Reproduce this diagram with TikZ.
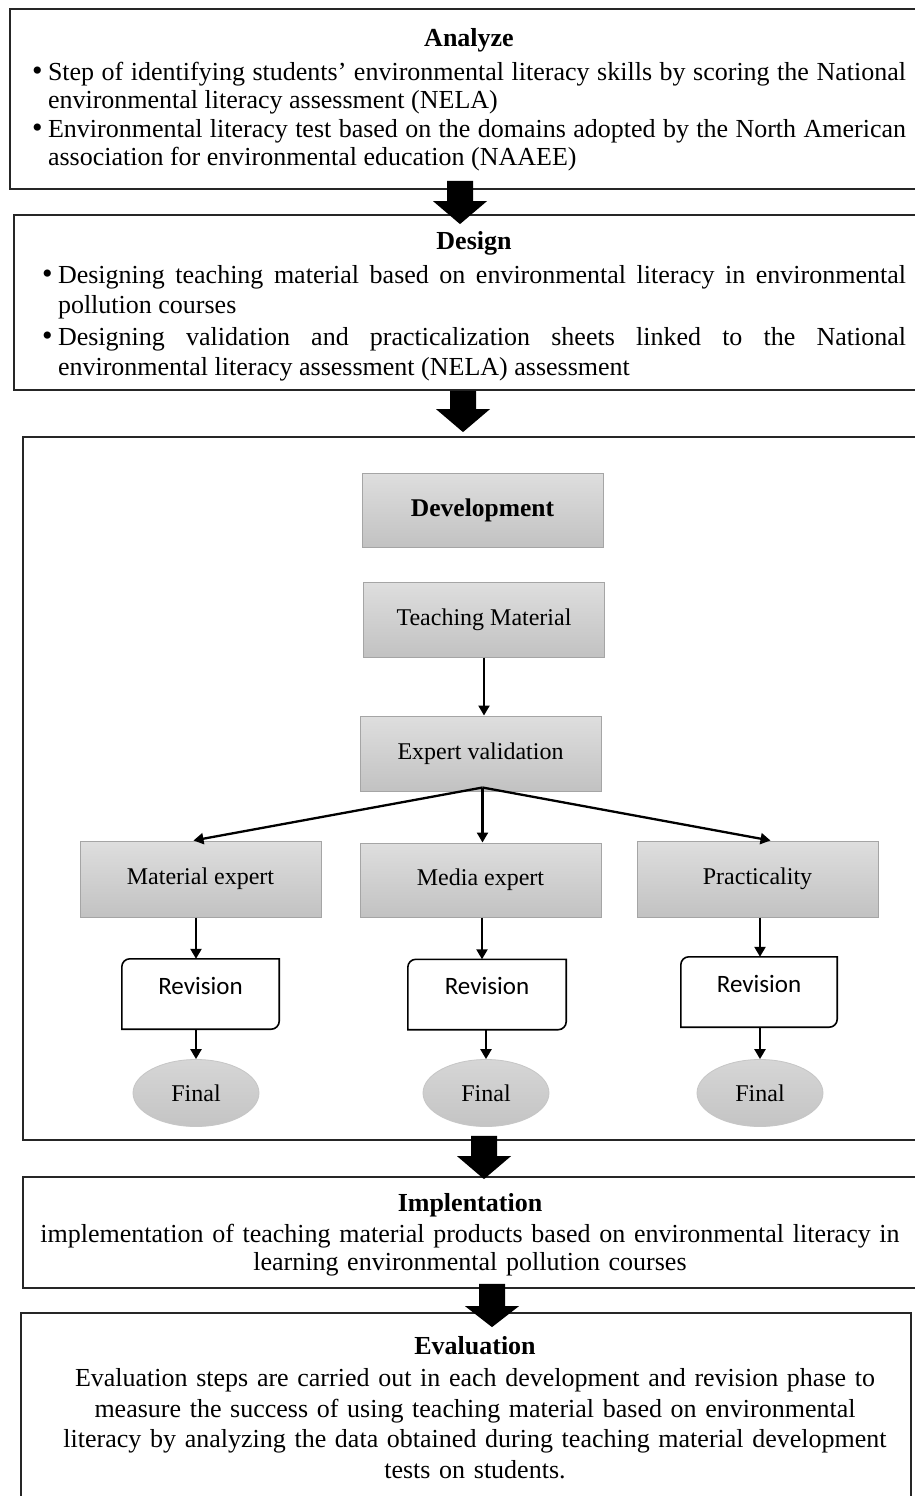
\documentclass[tikz,border=0pt]{standalone}
\usepackage{fontspec}
\setmainfont{Liberation Serif}
\newfontfamily\calib{Carlito}
\usetikzlibrary{arrows.meta,calc,shapes.geometric}
\definecolor{gtop}{RGB}{222,222,222}
\definecolor{gbot}{RGB}{194,194,194}
\definecolor{gbord}{RGB}{165,165,165}
\definecolor{etop}{RGB}{214,214,214}
\definecolor{ebot}{RGB}{196,196,196}
\newcommand\bigfont{\fontsize{26}{28.3}\selectfont}
\newcommand\desfont{\fontsize{26}{29.5}\selectfont}
\newcommand\evfont{\fontsize{26}{30.5}\selectfont}
\newcommand\smallserif{\fontsize{24}{26}\selectfont}
\newcommand\devfont{\fontsize{25.5}{28}\selectfont\bfseries}
\newcommand\revfont{\calib\fontsize{25}{28}\selectfont}
\newcommand\bul[1]{\par\noindent\hangindent=16pt\hangafter=1\makebox[16pt][l]{\fontsize{30}{30}\selectfont\textbullet}#1\par}
\newcommand\fatarr[3]{%
  \fill[black] ($(#1)+(-13,0)$) -- ($(#1)+(13,0)$) -- ($(#2)+(13,-#3)$) -- ($(#2)+(27,-#3)$) -- (#2) -- ($(#2)+(-27,-#3)$) -- ($(#2)+(-13,-#3)$) -- cycle;}
\tikzset{
  bigbox/.style={draw=black!85, line width=1.8pt, inner sep=0pt},
  gbox/.style={draw=gbord, line width=1pt, top color=gtop, bottom color=gbot,
    minimum width=241pt, minimum height=75pt, inner sep=0pt, font=\smallserif},
  revbox/.style={minimum width=157pt, inner xsep=0pt, inner ysep=0pt,
    text height=35pt, text depth=35pt, font=\revfont},
  revframe/.style={line width=1.6pt, draw=black},
  finbox/.style={ellipse, draw=gray!45, line width=0.8pt, top color=etop, bottom color=ebot,
    minimum width=126pt, minimum height=67pt, inner sep=0pt, font=\smallserif},
  arr/.style={line width=2.3pt, -{Triangle[length=10pt,width=11pt]}},
  txt/.style={inner sep=0pt, anchor=north}
}
\begin{document}
\begin{tikzpicture}[x=1pt,y=-1pt]
\useasboundingbox (0,0) rectangle (914,1496);
\fill[white] (0,0) rectangle (914,1496);

% outer boxes
\node[bigbox, minimum width=908pt, minimum height=180pt] (analyze) at (464,99) {};
\node[bigbox, minimum width=904pt, minimum height=175pt] (design) at (466,302.5) {};
\node[bigbox, minimum width=895pt, minimum height=703pt] (devframe) at (470.5,788.5) {};
\node[bigbox, minimum width=895pt, minimum height=111pt] (impl) at (470.5,1232.5) {};
\node[bigbox, minimum width=890pt, minimum height=197pt] (eval) at (466,1411.5) {};

% texts of the outer boxes
\node[txt, text width=874pt, align=justify, font=\bigfont] (antext) at (469,28) {%
  {\centering\bfseries Analyze\par}\vspace{6pt}%
  \bul{Step of identifying students' environmental literacy skills by scoring the National\linebreak environmental literacy assessment (NELA)}%
  \bul{Environmental literacy test based on the domains adopted by the North American\linebreak association for environmental education (NAAEE)}};
\node[txt, text width=864pt, align=justify, font=\desfont] (detext) at (474,231) {%
  {\centering\bfseries Design\par}\vspace{5pt}%
  \bul{Designing teaching material based on environmental literacy in environmental\linebreak pollution courses}\vspace{3pt}%
  \bul{Designing validation and practicalization sheets linked to the National\linebreak environmental literacy assessment (NELA) assessment}};
\node[txt, text width=880pt, align=center, font=\bigfont] (imtext) at (470,1193) {%
  \textbf{Implentation}\\[3pt]
  implementation of teaching material products based on environmental literacy in\\
  learning environmental pollution courses};
\node[txt, text width=880pt, align=center, font=\evfont] (evtext) at (475,1336) {%
  \textbf{Evaluation}\\[2pt]
  Evaluation steps are carried out in each development and revision phase to\\
  measure the success of using teaching material based on environmental\\
  literacy by analyzing the data obtained during teaching material development\\
  tests on students.};

% development part
\node[gbox, minimum height=74pt, font=\devfont] (dev) at (482.5,510) {Development};
\node[gbox] (tm) at (484,619.5) {Teaching Material};
\node[gbox] (ev) at (480.5,753.5) {Expert validation};
\node[gbox, minimum height=76pt] (me) at (200.5,879) {Material expert};
\node[gbox, minimum height=74pt] (media) at (480.5,880) {Media expert};
\node[gbox, minimum height=76pt] (pr) at (757.5,879) {Practicality};

\node[revbox] (rev1) at (200.5,994) {Revision};
\node[revbox, minimum width=158pt] (rev2) at (487,994.5) {Revision};
\node[revbox, minimum width=156pt] (rev3) at (759,992) {Revision};
\foreach \r in {rev1,rev2,rev3}{
  \draw[revframe] (\r.south west) -- ([yshift=-8pt]\r.north west)
    arc[start angle=180,end angle=90,radius=8pt] -- (\r.north east)
    -- ([yshift=8pt]\r.south east) arc[start angle=0,end angle=-90,radius=8pt] -- cycle;
}

\node[finbox] (fin1) at (196,1093) {Final};
\node[finbox] (fin2) at (486,1093) {Final};
\node[finbox] (fin3) at (760,1093) {Final};

% thin connectors
\draw[arr] (tm.south) -- (tm.south |- ev.north);
\coordinate (evb) at ([xshift=2pt,yshift=4pt]ev.south);
\draw[arr] (evb) -- ([xshift=-7pt]me.north);
\draw[arr] (evb) -- ([xshift=2pt]media.north);
\draw[arr] (evb) -- ([xshift=13pt]pr.north);
\draw[arr] ([xshift=-4.5pt]me.south) -- ([xshift=-4.5pt]me.south |- rev1.north);
\draw[arr] ([xshift=1.5pt]media.south) -- ([xshift=1.5pt]media.south |- rev2.north);
\draw[arr] ([xshift=2.5pt]pr.south) -- ([xshift=2.5pt]pr.south |- rev3.north);
\draw[arr] (fin1.north |- rev1.south) -- (fin1.north);
\draw[arr] (fin2.north |- rev2.south) -- (fin2.north);
\draw[arr] (fin3.north |- rev3.south) -- (fin3.north);

% fat arrows between phases
\coordinate (a1s) at ([xshift=-4pt,yshift=9pt]analyze.south);
\coordinate (a1t) at ([xshift=-6pt,yshift=-10pt]design.north);
\coordinate (a2s) at ([xshift=-3pt]design.south);
\coordinate (a2t) at ([xshift=-7.5pt,yshift=4pt]devframe.north);
\coordinate (a3s) at ([xshift=13.5pt,yshift=5pt]devframe.south);
\coordinate (a3t) at ([xshift=13.5pt,yshift=-3pt]impl.north);
\coordinate (a4s) at ([xshift=21.5pt,yshift=5pt]impl.south);
\coordinate (a4t) at ([xshift=26pt,yshift=-15pt]eval.north);
\fatarr{a1s}{a1t}{23}
\fatarr{a2s}{a2t}{23}
\fatarr{a3s}{a3t}{23}
\fatarr{a4s}{a4t}{21}
\end{tikzpicture}
\end{document}
